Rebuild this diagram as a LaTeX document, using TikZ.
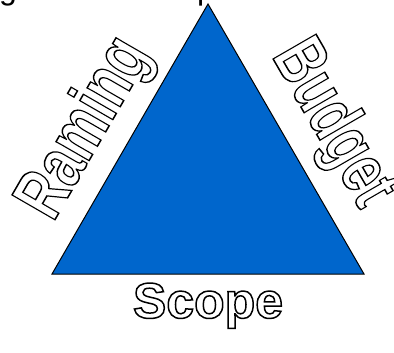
\documentclass[tikz,border=0pt]{standalone}
\usepackage{fontspec}
\setmainfont{Liberation Sans}
\usepackage{graphicx}
\definecolor{triblue}{HTML}{0066CC}
% outlined text: white fill, black stroke centred on the glyph outline
\newcommand{\outlinetext}[1]{%
  \special{pdf:literal direct 2 Tr 1.5 w 0 0 0 RG}#1\special{pdf:literal direct 0 Tr}}
\tikzset{
  wordart/.style={text=white, inner sep=0pt},
  toptext/.style={text=black, inner sep=0pt, anchor=base west, font=\fontsize{32}{32}\selectfont},
}
\begin{document}
\begin{tikzpicture}[x=1pt, y=-1pt]
\useasboundingbox (0,0) rectangle (394,353);
\clip (0,0) rectangle (394,353);
\fill[white] (0,0) rectangle (394,353);
% partially visible heading glyphs
\node[toptext] (tg) at (-1,0) {g};
\node[toptext] (tp) at (197,0) {p};
% triangle
\coordinate (apex) at (208,4);
\coordinate (bl) at (52,274);
\coordinate (br) at (364,274);
\draw[fill=triblue, draw=black, line width=1pt, line join=miter] (apex) -- (br) -- (bl) -- cycle;
% labels
\node[wordart, font=\bfseries\fontsize{50}{50}\selectfont, anchor=base] (scope) at (208,318)
  {\scalebox{1.0}[1]{\outlinetext{Scope}}};
\node[wordart, font=\bfseries\fontsize{72}{72}\selectfont, rotate=60] (raming) at (86,129)
  {\scalebox{0.74}[1]{\outlinetext{Raming}}};
\node[wordart, font=\bfseries\fontsize{72}{72}\selectfont, rotate=-60] (budget) at (332,124)
  {\scalebox{0.72}[1]{\outlinetext{Budget}}};
\end{tikzpicture}
\end{document}
